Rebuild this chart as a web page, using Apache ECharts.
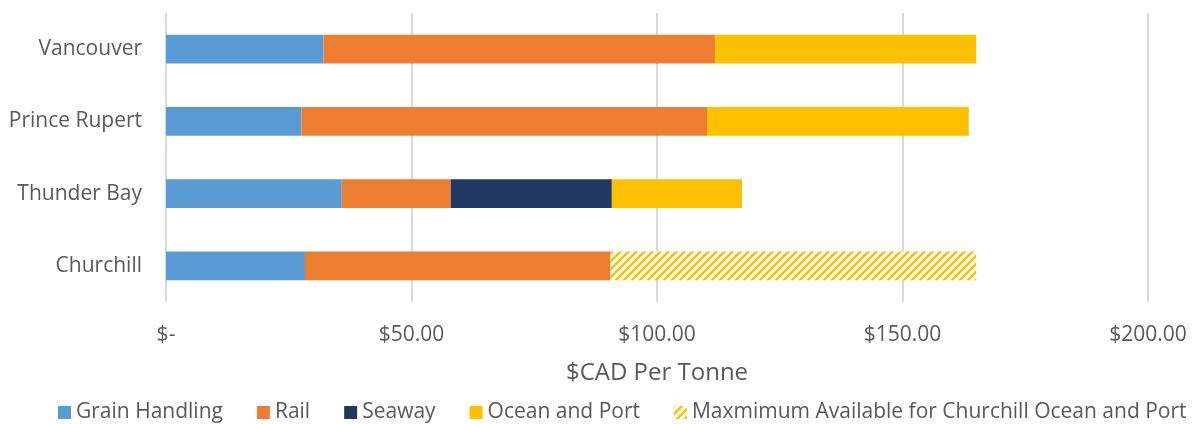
<!DOCTYPE html>
<html>
<head>
<meta charset="utf-8">
<script src="https://cdn.jsdelivr.net/npm/echarts@6/dist/echarts.min.js"></script>
<style>
  html, body { margin: 0; padding: 0; background: #ffffff; }
  #chart { width: 1203px; height: 424px; }
</style>
</head>
<body>
<div id="chart"></div>
<script>
// Cost per tonne of grain shipped through each port, by cost component
const ports = ['Vancouver', 'Prince Rupert', 'Thunder Bay', 'Churchill'];
const grainHandling = [32.1, 27.6, 35.8, 28.3];
const rail = [79.7, 82.6, 22.2, 62.2];
const seaway = [null, null, 32.8, null];
const oceanAndPort = [53.2, 53.3, 26.5, null];
const churchillMaxOceanPort = [null, null, null, 74.5];
const xTicks = [0, 50, 100, 150, 200];

// Diagonal yellow stripe tile used for the Churchill maximum bar
function stripeTile() {
  const c = document.createElement('canvas');
  c.width = 8; c.height = 8;
  const g = c.getContext('2d');
  g.fillStyle = '#ffffff';
  g.fillRect(0, 0, 8, 8);
  g.strokeStyle = '#FFC000';
  g.lineWidth = 2.6;
  g.beginPath();
  for (let k = -8; k <= 16; k += 8) {
    g.moveTo(k - 1, 9);
    g.lineTo(k + 9, -1);
  }
  g.stroke();
  return c;
}

const font = '"Open Sans", Lato, sans-serif';
const chart = echarts.init(document.getElementById('chart'), null, { renderer: 'canvas' });

function bar(name, data, color) {
  return {
    name: name,
    type: 'bar',
    stack: 'cost',
    data: data,
    barCategoryGap: '60%',
    itemStyle: { color: color },
    emphasis: { disabled: true }
  };
}

chart.setOption({
  animation: false,
  textStyle: { fontFamily: font },
  grid: { left: 166, right: 55, top: 13, bottom: 122 },
  xAxis: {
    type: 'value',
    min: 0,
    max: 200,
    interval: 50,
    name: '$CAD Per Tonne',
    nameLocation: 'middle',
    nameGap: 59,
    nameTextStyle: { fontSize: 24, color: '#595959', fontFamily: font },
    axisLine: { show: false },
    axisTick: { show: false },
    splitLine: { lineStyle: { color: '#d9d9d9', width: 2 } },
    axisLabel: {
      margin: 23,
      fontSize: 21,
      color: '#595959',
      fontFamily: font,
      formatter: v => xTicks.includes(v) ? (v === 0 ? '$-' : '$' + v.toFixed(2)) : ''
    }
  },
  yAxis: {
    type: 'category',
    data: ports,
    inverse: true,
    axisLine: { show: false },
    axisTick: { show: false },
    axisLabel: { margin: 24, fontSize: 21, color: '#595959', fontFamily: font }
  },
  legend: {
    left: 58,
    right: 0,
    top: 402,
    padding: 0,
    itemWidth: 13,
    itemHeight: 13,
    itemGap: 34,
    icon: 'rect',
    textStyle: { fontSize: 21, color: '#595959', fontFamily: font },
    data: ['Grain Handling', 'Rail', 'Seaway', 'Ocean and Port', 'Maxmimum Available for Churchill Ocean and Port']
  },
  series: [
    bar('Grain Handling', grainHandling, '#5B9BD5'),
    bar('Rail', rail, '#ED7D31'),
    bar('Seaway', seaway, '#203864'),
    bar('Ocean and Port', oceanAndPort, '#FFC000'),
    bar('Maxmimum Available for Churchill Ocean and Port', churchillMaxOceanPort,
        { image: stripeTile(), repeat: 'repeat' })
  ]
});
</script>
</body>
</html>
